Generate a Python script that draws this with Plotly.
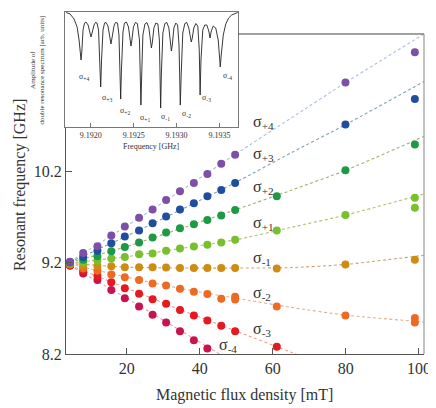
import plotly.graph_objects as go

# ---------------- data ----------------
FIELD_MT = [4.5, 8.1, 12.0, 15.8, 19.5, 23.4, 27.1, 30.8, 34.6, 38.4, 42.1, 45.9, 49.7, 61.1, 79.9, 98.9]

SIG_P4 = [9.21, 9.305, 9.378, 9.495, 9.595, 9.69, 9.78, 9.885, 9.98, 10.07, 10.17, 10.28, 10.38, None, 11.17, 11.50]
SIG_P3 = [9.205, 9.26, 9.33, 9.41, 9.485, 9.55, 9.63, 9.705, 9.78, 9.85, 9.925, 9.995, 10.07, None, 10.71, 10.99]
SIG_P2 = [9.20, 9.23, 9.27, 9.325, 9.37, 9.42, 9.475, 9.53, 9.575, 9.62, 9.665, 9.715, 9.775, 9.925, 10.21, 10.49]
SIG_P1 = [9.195, 9.20, 9.22, 9.245, 9.26, 9.29, 9.30, 9.33, 9.355, 9.375, 9.395, 9.42, 9.45, 9.55, 9.72, 9.91]
SIG_M1 = [9.19, 9.165, 9.163, 9.16, 9.15, 9.15, 9.15, 9.145, 9.14, 9.14, 9.14, 9.14, 9.14, 9.135, 9.18, 9.23]
SIG_M2 = [9.18, 9.135, 9.11, 9.07, 9.04, 9.01, 8.97, 8.95, 8.915, 8.88, 8.855, 8.805, 8.825, 8.72, 8.62, 8.595]
SIG_M3 = [9.17, 9.11, 9.055, 8.985, 8.92, 8.86, 8.80, 8.75, 8.68, 8.62, 8.566, 8.51, 8.45, 8.28, None, None]
SIG_M4 = [9.165, 9.08, 9.01, 8.90, 8.81, 8.72, 8.63, 8.545, 8.45, 8.35, 8.26, None, None, None, None, None]

# repeated measurements visible as second dots
EXTRA_P1_X, EXTRA_P1_Y = [98.9], [9.80]
EXTRA_M2_X, EXTRA_M2_Y = [49.7, 98.9], [8.795, 8.545]

# dashed guide curves
FIT_X = [4.5, 20, 35, 50, 65, 80, 101.4]
FIT_P4 = [9.21, 9.60, 9.99, 10.39, 10.78, 11.17, 11.70]
FIT_P3 = [9.205, 9.49, 9.78, 10.08, 10.40, 10.71, 11.18]
FIT_P2 = [9.20, 9.375, 9.575, 9.78, 9.99, 10.21, 10.58]
FIT_P1 = [9.195, 9.265, 9.355, 9.45, 9.585, 9.72, 9.95]
FIT_M1 = [9.19, 9.15, 9.14, 9.14, 9.145, 9.18, 9.28]
FIT_M2 = [9.185, 9.04, 8.915, 8.81, 8.71, 8.625, 8.55]
FIT_M3_X = [4.5, 20, 35, 50, 65, 70]
FIT_M3 = [9.17, 8.92, 8.68, 8.45, 8.22, 8.14]
FIT_M4_X = [4.5, 20, 35, 50]
FIT_M4 = [9.165, 8.81, 8.45, 8.09]

SERIES_NAMES = ["σ+4", "σ+3", "σ+2", "σ+1", "σ-1", "σ-2", "σ-3", "σ-4"]
SUBS = ["+4", "+3", "+2", "+1", "-1", "-2", "-3", "-4"]

# inset spectrum
SPEC_F = [9.191713, 9.191759, 9.191806, 9.191841, 9.191864, 9.191881, 9.191887, 9.191896, 9.191910, 9.191928,
          9.191945, 9.191969, 9.191992, 9.192003, 9.192015, 9.192038, 9.192056, 9.192073, 9.192091, 9.192106,
          9.192116, 9.192126, 9.192143, 9.192161, 9.192178, 9.192201, 9.192224, 9.192236, 9.192248, 9.192271,
          9.192288, 9.192312, 9.192329, 9.192341, 9.192349, 9.192358, 9.192376, 9.192393, 9.192416, 9.192440,
          9.192457, 9.192469, 9.192480, 9.192498, 9.192521, 9.192544, 9.192568, 9.192579, 9.192585, 9.192594,
          9.192608, 9.192632, 9.192655, 9.192678, 9.192696, 9.192707, 9.192719, 9.192736, 9.192759, 9.192783,
          9.192800, 9.192809, 9.192815, 9.192823, 9.192841, 9.192864, 9.192887, 9.192911, 9.192928, 9.192940,
          9.192951, 9.192969, 9.192992, 9.193013, 9.193029, 9.193039, 9.193044, 9.193054, 9.193073, 9.193097,
          9.193120, 9.193143, 9.193161, 9.193172, 9.193184, 9.193201, 9.193225, 9.193248, 9.193265, 9.193275,
          9.193285, 9.193306, 9.193329, 9.193353, 9.193376, 9.193391, 9.193405, 9.193428, 9.193457, 9.193486,
          9.193504, 9.193510, 9.193521, 9.193545, 9.193574, 9.193608, 9.193643, 9.193690, 9.193713]
SPEC_A = [0.996, 0.983, 0.939, 0.870, 0.757, 0.626, 0.583, 0.652, 0.843, 0.904,
          0.913, 0.887, 0.817, 0.783, 0.817, 0.887, 0.909, 0.904, 0.843, 0.583,
          0.348, 0.583, 0.843, 0.904, 0.909, 0.878, 0.774, 0.722, 0.774, 0.878,
          0.909, 0.904, 0.800, 0.496, 0.243, 0.496, 0.826, 0.904, 0.913, 0.870,
          0.757, 0.704, 0.757, 0.870, 0.909, 0.900, 0.757, 0.409, 0.191, 0.452,
          0.800, 0.896, 0.909, 0.861, 0.739, 0.687, 0.739, 0.861, 0.904, 0.896,
          0.757, 0.409, 0.165, 0.452, 0.817, 0.900, 0.909, 0.861, 0.713, 0.661,
          0.713, 0.861, 0.904, 0.887, 0.713, 0.409, 0.191, 0.452, 0.817, 0.900,
          0.909, 0.861, 0.774, 0.739, 0.774, 0.861, 0.900, 0.878, 0.670, 0.278,
          0.583, 0.843, 0.887, 0.887, 0.835, 0.774, 0.835, 0.878, 0.861, 0.757,
          0.583, 0.522, 0.626, 0.800, 0.896, 0.948, 0.974, 0.991, 0.996]
INSET_TICKS = [9.1920, 9.1925, 9.1930, 9.1935]
INSET_TICKTEXT = ["9.1920", "9.1925", "9.1930", "9.1935"]

# ---------------- styles ----------------
FONT = "Liberation Serif"
MARKER_COLORS = ["#7d4fa6", "#1f4e9e", "#1e9a45", "#78c02f", "#cf8b12", "#ee6a22", "#e5191f", "#c8134c"]
LINE_COLORS = ["#a9bfe3", "#7fa3b3", "#9fb06a", "#b2bd6e", "#c9a56e", "#d8b48c", "#eaa08d", "#eb9cb4"]

series_y = [SIG_P4, SIG_P3, SIG_P2, SIG_P1, SIG_M1, SIG_M2, SIG_M3, SIG_M4]
fits = [(FIT_X, FIT_P4), (FIT_X, FIT_P3), (FIT_X, FIT_P2), (FIT_X, FIT_P1),
        (FIT_X, FIT_M1), (FIT_X, FIT_M2), (FIT_M3_X, FIT_M3), (FIT_M4_X, FIT_M4)]

fig = go.Figure()

# dashed curves first
for i, (fx, fy) in enumerate(fits):
    fig.add_trace(go.Scatter(x=fx, y=fy, mode="lines", showlegend=False, hoverinfo="skip",
                             line=dict(color=LINE_COLORS[i], width=1.1, dash="3px,2.5px", shape="spline", smoothing=0.6),
                             cliponaxis=True))

# markers, lowest series drawn first so upper ones sit on top
for i in reversed(range(8)):
    fig.add_trace(go.Scatter(x=FIELD_MT, y=series_y[i], mode="markers", name=SERIES_NAMES[i], showlegend=False,
                             marker=dict(color=MARKER_COLORS[i], size=8, line=dict(width=0))))
    if i == 3:
        fig.add_trace(go.Scatter(x=EXTRA_P1_X, y=EXTRA_P1_Y, mode="markers", showlegend=False,
                                 marker=dict(color=MARKER_COLORS[i], size=8, line=dict(width=0))))
    if i == 5:
        fig.add_trace(go.Scatter(x=EXTRA_M2_X, y=EXTRA_M2_Y, mode="markers", showlegend=False,
                                 marker=dict(color=MARKER_COLORS[i], size=8, line=dict(width=0))))

# inset spectrum
fig.add_trace(go.Scatter(x=SPEC_F, y=SPEC_A, mode="lines", xaxis="x2", yaxis="y2", showlegend=False,
                         line=dict(color="#222222", width=0.9)))

# ---------------- layout ----------------
MAIN_TOP = 0.9357
annotations = []

# sigma labels in main plot
label_pos = [(54.0, 10.73), (54.0, 10.38), (54.0, 10.02), (54.0, 9.63),
             (54.0, 9.25), (54.0, 8.86), (54.0, 8.47), (44.8, 8.29)]
for (lx, ly), s in zip(label_pos, SUBS):
    annotations.append(dict(x=lx, y=ly, xref="x", yref="y", xanchor="left", yanchor="middle",
                            text="σ<sub>%s</sub>" % s, showarrow=False,
                            font=dict(family=FONT, size=16, color="#333333")))

# sigma labels in inset
inset_label_pos = [(9.191841, 0.435), (9.192105, 0.25), (9.192318, 0.135), (9.192550, 0.08),
                   (9.192794, 0.087), (9.193039, 0.113), (9.193271, 0.248), (9.193515, 0.443)]
for (lx, ly), s in zip(inset_label_pos, SUBS):
    annotations.append(dict(x=lx, y=ly, xref="x2", yref="y2", xanchor="left", yanchor="middle",
                            text="σ<sub>%s</sub>" % s, showarrow=False,
                            font=dict(family=FONT, size=8, color="#333333")))

# axis titles
annotations.append(dict(x=0.5, y=-0.12, xref="paper", yref="paper", xanchor="center", yanchor="middle",
                        text="Magnetic flux density [mT]", showarrow=False,
                        font=dict(family=FONT, size=16, color="#333333")))
annotations.append(dict(x=-0.1253, y=0.494, xref="paper", yref="paper", xanchor="center", yanchor="middle",
                        text="Resonant frequency [GHz]", textangle=-90, showarrow=False,
                        font=dict(family=FONT, size=16, color="#333333")))
annotations.append(dict(x=0.2412, y=0.608, xref="paper", yref="paper", xanchor="center", yanchor="middle",
                        text="Frequency [GHz]", showarrow=False,
                        font=dict(family=FONT, size=8, color="#333333")))
annotations.append(dict(x=-0.078, y=0.832, xref="paper", yref="paper", xanchor="center", yanchor="middle",
                        text="Amplitude of<br>double resonance spectrum [arb. units]", textangle=-90,
                        showarrow=False, font=dict(family=FONT, size=7, color="#333333")))

# the page places the figure 8px from the top-left corner, so the figure is 8px smaller
fig.update_layout(
    width=428, height=400,
    margin=dict(l=57, r=12, t=4, b=54),
    paper_bgcolor="white", plot_bgcolor="white",
    font=dict(family=FONT, color="#333333"),
    showlegend=False,
    xaxis=dict(domain=[0.0028, 1], range=[3.4, 101.4], tickvals=[20, 40, 60, 80, 100],
               ticks="inside", ticklen=6, tickcolor="#555555", showline=True, linecolor="#555555",
               linewidth=1, showgrid=False, zeroline=False, anchor="y",
               tickfont=dict(family=FONT, size=16, color="#333333")),
    yaxis=dict(domain=[0, MAIN_TOP], range=[8.2, 11.7], tickvals=[8.2, 9.2, 10.2],
               ticktext=["8.2", "9.2", "10.2"], ticks="inside", ticklen=6, tickcolor="#555555",
               showline=True, linecolor="#555555", linewidth=1, showgrid=False, zeroline=False,
               anchor="x", tickfont=dict(family=FONT, size=16, color="#333333")),
    xaxis2=dict(domain=[0, 0.4827], range=[9.19170, 9.19372], tickvals=INSET_TICKS, ticktext=INSET_TICKTEXT,
                ticks="inside", ticklen=4, tickcolor="#777777", showline=True, mirror=True,
                linecolor="#777777", linewidth=1, showgrid=False, zeroline=False, anchor="y2",
                tickfont=dict(family=FONT, size=8, color="#333333")),
    yaxis2=dict(domain=[0.6637, 1.0], range=[0, 1.0], showticklabels=False, ticks="",
                showline=True, mirror=True, linecolor="#777777", linewidth=1, showgrid=False,
                zeroline=False, anchor="x2"),
    annotations=annotations,
    shapes=[
        dict(type="line", xref="paper", yref="paper", x0=0.4827, x1=1.0, y0=MAIN_TOP, y1=MAIN_TOP,
             line=dict(color="#444444", width=1)),
        dict(type="line", xref="paper", yref="paper", x0=1.0, x1=1.0, y0=0, y1=MAIN_TOP,
             line=dict(color="#999999", width=1.2)),
    ],
)

fig.write_html("out.html")
